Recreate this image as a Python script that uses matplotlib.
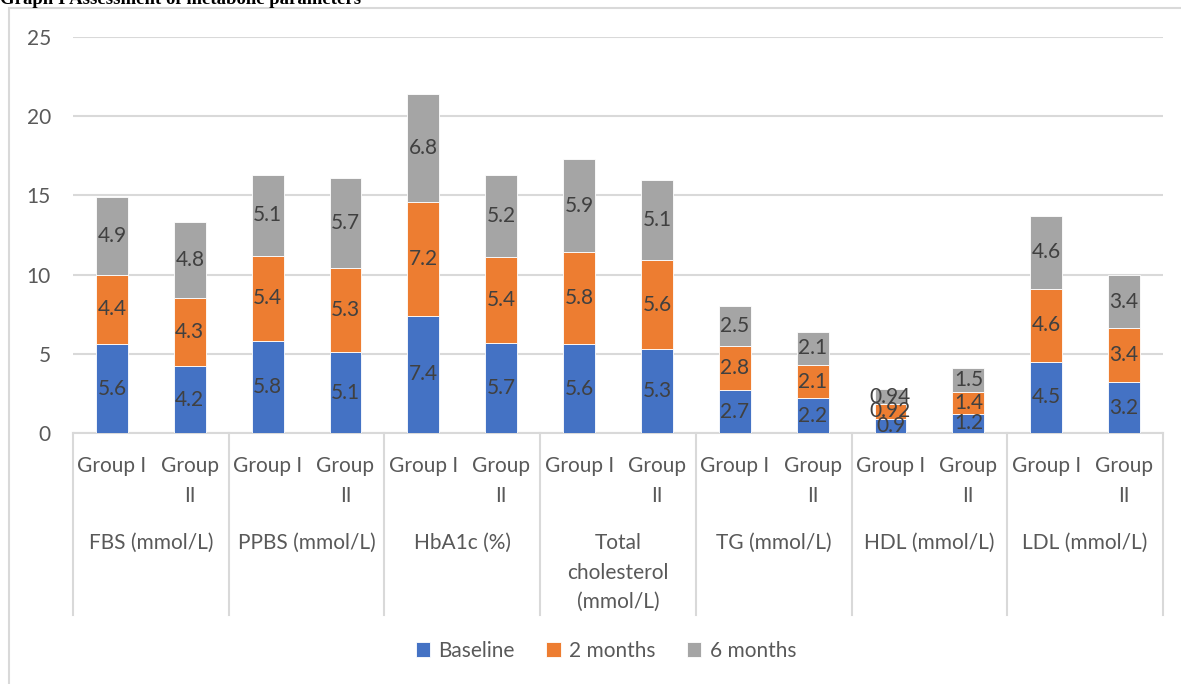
import matplotlib.pyplot as plt
from matplotlib.patches import Rectangle
import numpy as np

# Metabolic parameters, two groups per parameter
parameters = ['FBS (mmol/L)', 'PPBS (mmol/L)', 'HbA1c (%)', 'Total\ncholesterol\n(mmol/L)',
              'TG (mmol/L)', 'HDL (mmol/L)', 'LDL (mmol/L)']
groups = ['Group I', 'Group\nII']

# Values ordered: FBS I, FBS II, PPBS I, PPBS II, ...
baseline = [5.6, 4.2, 5.8, 5.1, 7.4, 5.7, 5.6, 5.3, 2.7, 2.2, 0.9, 1.2, 4.5, 3.2]
month2 = [4.4, 4.3, 5.4, 5.3, 7.2, 5.4, 5.8, 5.6, 2.8, 2.1, 0.92, 1.4, 4.6, 3.4]
month6 = [4.9, 4.8, 5.1, 5.7, 6.8, 5.2, 5.9, 5.1, 2.5, 2.1, 0.94, 1.5, 4.6, 3.4]

series = [('Baseline', baseline, '#4472C4'),
          ('2 months', month2, '#ED7D31'),
          ('6 months', month6, '#A5A5A5')]

txt = '#404040'
grid_c = '#D9D9D9'
font = 'Lato'
fs = 15

W, H = 1181, 684
fig = plt.figure(figsize=(W / 100, H / 100), dpi=100)
ax = fig.add_axes([73 / W, (H - 433) / H, (1163 - 73) / W, (433 - 37) / H])

x = np.arange(len(baseline)) + 0.5
bottom = np.zeros(len(baseline))
for name, vals, col in series:
    vals = np.array(vals)
    ax.bar(x, vals, width=0.41, bottom=bottom, color=col, edgecolor='white',
           linewidth=0.6, label=name, zorder=3)
    for xi, b, v in zip(x, bottom, vals):
        ax.text(xi, b + v / 2, f'{v:g}', ha='center', va='center', color=txt,
                fontsize=fs, family=font, zorder=4)
    bottom += vals

ax.set_xlim(0, len(baseline))
ax.set_ylim(0, 25)
ax.set_yticks(range(0, 26, 5))
ax.yaxis.grid(True, color=grid_c, linewidth=1.5, zorder=0)
ax.tick_params(axis='y', length=0, pad=16, labelcolor='#595959', labelsize=fs)
for lab in ax.get_yticklabels():
    lab.set_family(font)
ax.set_xticks([])
for s in ['top', 'right', 'left']:
    ax.spines[s].set_visible(False)
ax.spines['bottom'].set_color(grid_c)
ax.spines['bottom'].set_linewidth(1.5)

# Multi-level category axis
tr = ax.get_xaxis_transform()
ax_h = 433 - 37
for b in range(0, len(baseline) + 1, 2):
    ax.plot([b, b], [0, -(615 - 433) / ax_h], transform=tr, color=grid_c,
            linewidth=1.5, clip_on=False)
for i, xi in enumerate(x):
    ax.text(xi, -(456 - 433) / ax_h, groups[i % 2], transform=tr, ha='center',
            va='top', color='#595959', fontsize=fs, family=font, linespacing=1.6)
for j, p in enumerate(parameters):
    ax.text(2 * j + 1, -(533 - 433) / ax_h, p, transform=tr, ha='center',
            va='top', color='#595959', fontsize=fs, family=font, linespacing=1.6)

# Chart frame
fig.patches.append(Rectangle((9 / W, -0.1), 1.2, (H - 8) / H + 0.1,
                             transform=fig.transFigure, fill=False,
                             edgecolor=grid_c, linewidth=1.5))

leg = fig.legend(loc='center', bbox_to_anchor=(606 / W, (H - 651) / H), ncol=3,
                 frameon=False, handlelength=0.7, handleheight=0.7,
                 columnspacing=1.5, handletextpad=0.4,
                 prop={'family': font, 'size': fs})
for t in leg.get_texts():
    t.set_color('#595959')

fig.text(0, 1 - 4 / H, 'Graph I Assessment of metabolic parameters', ha='left',
         va='baseline', family='Liberation Serif', weight='bold', fontsize=13.5)

fig.savefig('out.png', dpi=100)
